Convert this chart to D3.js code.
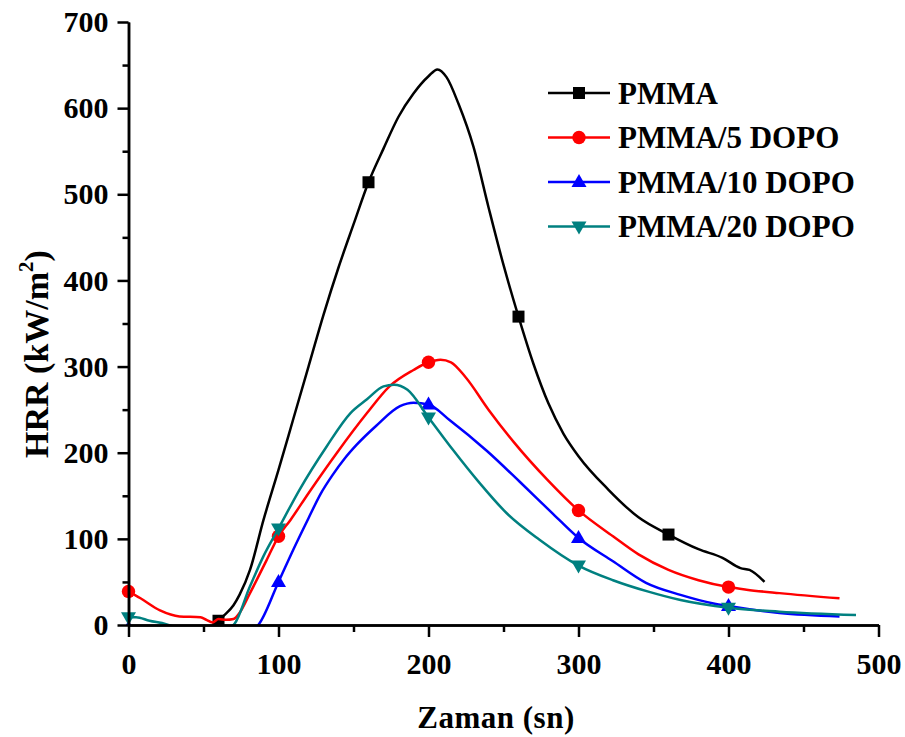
<!DOCTYPE html>
<html>
<head>
<meta charset="utf-8">
<script src="https://cdn.jsdelivr.net/npm/d3@7"></script>
<style>
    body { margin: 0; background: #fff; }
    text { font-family: "Liberation Serif", "Times New Roman", serif; font-weight: bold; }
</style>
</head>
<body>
<div id="chart"></div>
<script>
// --------- DATA ---------

let seriesNames = ["PMMA", "PMMA/5 DOPO", "PMMA/10 DOPO", "PMMA/20 DOPO"];

// [time (sn), HRR (kW/m2)]
let pmma = [[56,2],[60,5],[63,10],[70,23],[74,35],[81,64],[90,122],[100,180],[110,240],[120,300],
    [130,360],[140,415],[150,465],[160,514],[170,553],[180,590],[190,617],[200,637],[206,645],[212,636],
    [220,605],[230,555],[240,485],[250,418],[260,358],[270,303],[280,257],[290,222],[300,196],[320,157],
    [340,125],[360,105],[380,88],[396,78],[408,66],[414,64],[424,50]];

let pmma5 = [[0,39],[3,36],[8,31],[21,17],[34,10],[48,9],[52,6],[56,3],[60,7],[65,6],[70,7],[74,14],
    [81,37],[92,75],[100,103],[108,122],[120,153],[139,200],[159,246],[174,277],[190,296],[200,305],
    [208,308],[215,305],[225,287],[240,250],[257,212],[279,169],[300,133],[323,103],[340,82],
    [360,64],[380,52],[400,44],[412,41],[434,37],[474,31]];

let pmma10 = [[0,-4],[10,-15],[30,-25],[60,-20],[80,-8],[86.5,0],[100,50],[110,88],[120,124],[128,152],
    [136,174],[144,193],[152,209],[165,231],[181,254],[190,258],[200,256],[214,238],[239,202],[261,166],
    [283,129],[300,101],[323,74],[345,49],[368,35],[390,25],[400,22],[434,14],[474,10]];

let pmma20 = [[0,9],[5,9],[14,5],[25,1],[32,-3],[50,-10],[66,-3],[70,0],[81,45],[90,80],[100,112],
    [114,157],[132,207],[148,246],[159,262],[170,277],[177,279],[186,273],[200,241],[216,204],[234,165],
    [252,130],[274,99],[300,69],[323,52],[346,39],[368,29],[400,20],[434,15.5],[485,11.6]];

// x positions of the symbols on each curve
let pmmaMarks = [60, 160, 260, 360];
let dopoMarks = [0, 100, 200, 300, 400];

let xTicks = [0, 100, 200, 300, 400, 500];
let yTicks = [0, 100, 200, 300, 400, 500, 600, 700];

// --------- CHART ---------

let margin = {top: 22, right: 27, bottom: 112, left: 128.5},
    width = 905 - margin.left - margin.right,
    height = 737 - margin.top - margin.bottom;

let svg = d3.select("#chart")
    .append("svg")
    .attr("width", 905)
    .attr("height", 737);

let graph = svg.append("g")
    .attr("transform", "translate(" + margin.left + "," + margin.top + ")");

let xScale = d3.scaleLinear().domain([0, 500]).range([0, 750]);
let yScale = d3.scaleLinear().domain([0, 700]).range([603, 0]);

svg.append("defs").append("clipPath")
    .attr("id", "plot-clip")
    .append("rect")
    .attr("x", -10).attr("y", -20)
    .attr("width", 770).attr("height", 623);

let series = [
    {name: seriesNames[0], data: pmma, marks: pmmaMarks, color: "#000000", shape: "square"},
    {name: seriesNames[1], data: pmma5, marks: dopoMarks, color: "#ff0000", shape: "circle"},
    {name: seriesNames[2], data: pmma10, marks: dopoMarks, color: "#0000ff", shape: "up"},
    {name: seriesNames[3], data: pmma20, marks: dopoMarks, color: "#008080", shape: "down"}
];

function symbolPath(shape) {
    if (shape === "square") return "M-6,-6H6V6H-6Z";
    if (shape === "circle") return "M-6.7,0A6.7,6.7 0 1,0 6.7,0A6.7,6.7 0 1,0 -6.7,0Z";
    if (shape === "up") return "M0,-8L7.5,5L-7.5,5Z";
    return "M0,8L7.5,-5L-7.5,-5Z";
}

let line = d3.line()
    .x(d => xScale(d[0]))
    .y(d => yScale(d[1]))
    .curve(d3.curveMonotoneX);

let plot = graph.append("g").attr("clip-path", "url(#plot-clip)");

series.forEach(s => {
    plot.append("path")
        .attr("fill", "none")
        .attr("stroke", s.color)
        .attr("stroke-width", 2.5)
        .attr("stroke-linejoin", "round")
        .attr("d", line(s.data));

    let pts = s.marks.map(m => s.data.find(d => d[0] === m));
    plot.selectAll(null)
        .data(pts)
        .enter().append("path")
        .attr("transform", d => "translate(" + xScale(d[0]) + "," + yScale(d[1]) + ")")
        .attr("d", symbolPath(s.shape))
        .attr("fill", s.color);
});

// Axes
let xAxis = graph.append("g")
    .attr("transform", "translate(0," + height + ")")
    .call(d3.axisBottom(xScale).tickValues(xTicks).tickSize(12).tickPadding(16).tickSizeOuter(0));
let xMinor = graph.append("g")
    .attr("transform", "translate(0," + height + ")")
    .call(d3.axisBottom(xScale).tickValues([50, 150, 250, 350, 450]).tickSize(7).tickFormat("").tickSizeOuter(0));

let yAxis = graph.append("g")
    .call(d3.axisLeft(yScale).tickValues(yTicks).tickSize(11).tickPadding(9).tickSizeOuter(0));
let yMinor = graph.append("g")
    .call(d3.axisLeft(yScale).tickValues([50, 150, 250, 350, 450, 550, 650]).tickSize(6).tickFormat("").tickSizeOuter(0));

[xAxis, xMinor, yAxis, yMinor].forEach(a => {
    a.selectAll("path, line").attr("stroke", "#000").attr("stroke-width", 2.5);
    a.selectAll("text").attr("font-size", 30).attr("fill", "#000")
        .style("font-family", "'Liberation Serif', serif").style("font-weight", "bold");
});

// Axis titles
svg.append("text")
    .attr("x", 496)
    .attr("y", 728)
    .attr("text-anchor", "middle")
    .attr("font-size", 31)
    .attr("letter-spacing", 0.5)
    .text("Zaman (sn)");

let yTitle = svg.append("text")
    .attr("transform", "translate(48,354) rotate(-90)")
    .attr("text-anchor", "middle")
    .attr("font-size", 34);
yTitle.append("tspan").text("HRR (kW/m");
yTitle.append("tspan").attr("font-size", 21).attr("dy", -15).text("2");
yTitle.append("tspan").attr("dy", 15).text(")");

// Legend
let legend = svg.append("g");
series.forEach((s, i) => {
    let y = 93 + i * 44.5;
    legend.append("line")
        .attr("x1", 548).attr("x2", 610)
        .attr("y1", y).attr("y2", y)
        .attr("stroke", s.color)
        .attr("stroke-width", 2.5);
    legend.append("path")
        .attr("transform", "translate(579," + y + ")")
        .attr("d", symbolPath(s.shape))
        .attr("fill", s.color);
    legend.append("text")
        .attr("x", 618)
        .attr("y", y)
        .attr("dy", "0.34em")
        .attr("font-size", 31)
        .text(s.name);
});
</script>
</body>
</html>
